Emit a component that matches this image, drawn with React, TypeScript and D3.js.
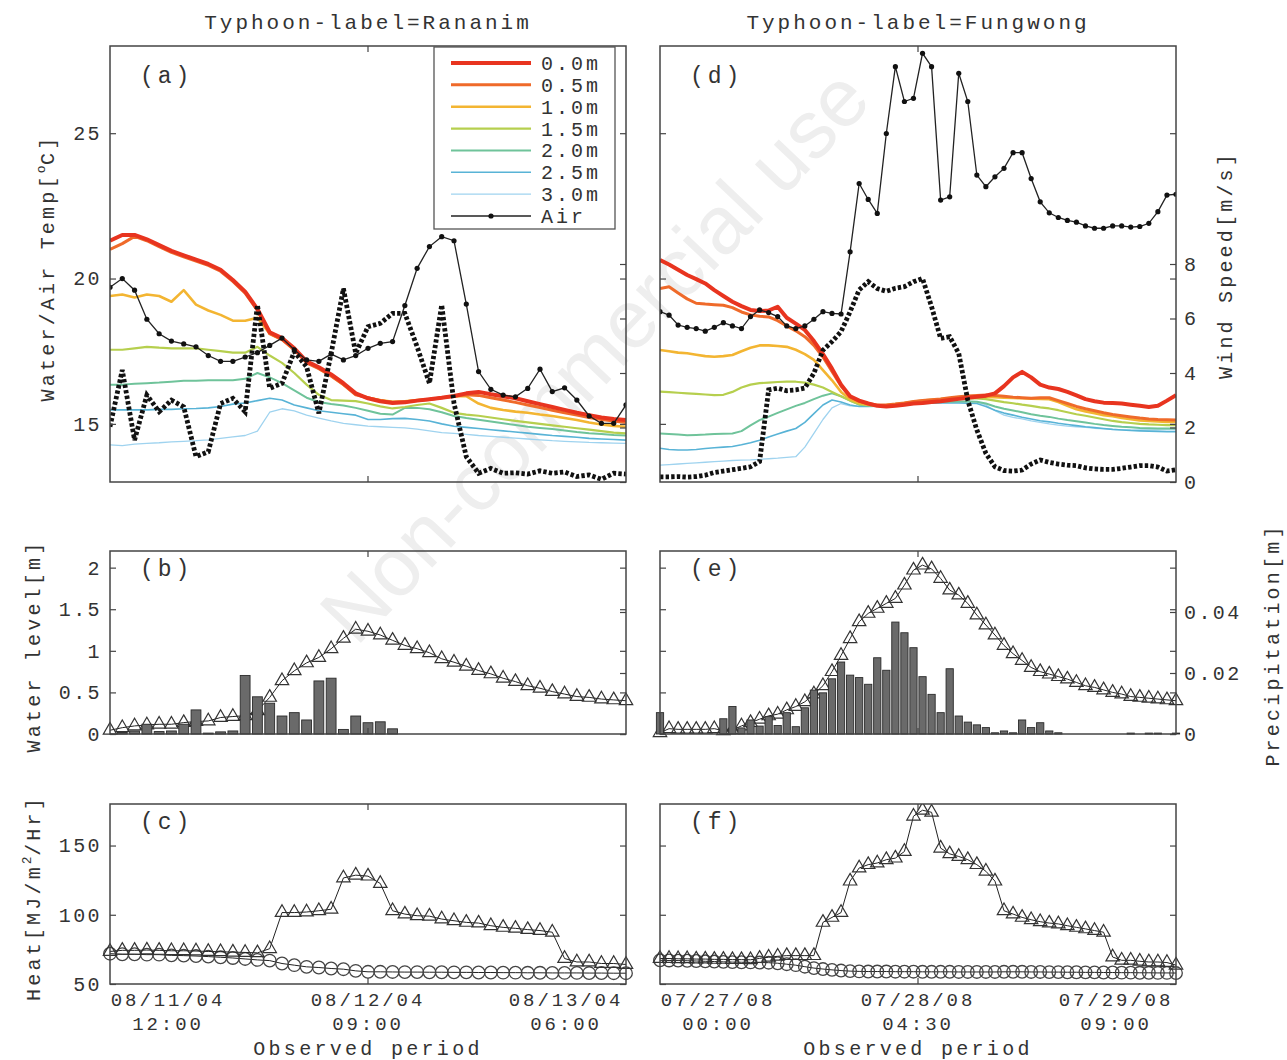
import React, { useRef, useEffect } from 'react'
import * as d3 from 'd3'

// ---- Rananim, hourly from 08/11/04 12:00 (43 values) ----
const airRananim = [19.7, 20.0, 19.6, 18.6, 18.1, 17.85, 17.75, 17.65, 17.35, 17.15, 17.15, 17.3, 17.45, 17.7, 17.95, 17.55, 17.2, 17.15, 17.4, 17.2, 17.35, 17.6, 17.77, 17.83, 19.07, 20.35, 21.1, 21.44, 21.3, 19.12, 16.8, 16.19, 15.99, 15.93, 16.22, 16.88, 16.11, 16.24, 15.82, 15.27, 15.02, 15.02, 15.65]
const windRananim = [2.03, 4.11, 1.54, 3.19, 2.58, 3.0, 2.76, 0.93, 1.11, 2.88, 3.07, 2.58, 6.5, 3.44, 3.62, 4.78, 4.23, 2.52, 4.72, 7.1, 4.72, 5.7, 5.82, 6.19, 6.19, 4.96, 3.62, 6.5, 2.89, 0.93, 0.32, 0.5, 0.32, 0.34, 0.29, 0.41, 0.32, 0.37, 0.2, 0.26, 0.1, 0.32, 0.29]
const water00Rananim = [21.3, 21.5, 21.5, 21.35, 21.15, 20.95, 20.8, 20.65, 20.5, 20.3, 19.95, 19.55, 18.95, 18.15, 17.95, 17.6, 17.15, 16.95, 16.7, 16.4, 16.05, 15.88, 15.78, 15.72, 15.74, 15.8, 15.85, 15.9, 15.96, 16.05, 16.1, 16.02, 15.95, 15.88, 15.78, 15.68, 15.58, 15.48, 15.38, 15.3, 15.22, 15.17, 15.13]
const water05Rananim = [21.0, 21.2, 21.45, 21.3, 21.1, 20.9, 20.75, 20.6, 20.45, 20.25, 19.9, 19.5, 18.9, 18.1, 17.9, 17.55, 17.1, 16.9, 16.65, 16.35, 16.0, 15.9, 15.8, 15.74, 15.76, 15.8, 15.84, 15.9, 15.95, 16.0, 15.98, 15.9, 15.82, 15.74, 15.65, 15.56, 15.47, 15.38, 15.3, 15.22, 15.15, 15.1, 15.05]
const water10Rananim = [19.4, 19.45, 19.35, 19.45, 19.4, 19.2, 19.6, 19.1, 18.9, 18.75, 18.55, 18.55, 18.65, 18.1, 17.9, 17.55, 17.15, 16.9, 16.65, 16.35, 16.02, 15.9, 15.82, 15.76, 15.78, 15.82, 15.85, 15.9, 15.96, 15.95, 15.7, 15.55, 15.48, 15.42, 15.38, 15.32, 15.27, 15.2, 15.13, 15.05, 14.98, 14.93, 14.9]
const water15Rananim = [17.55, 17.55, 17.6, 17.65, 17.62, 17.6, 17.6, 17.6, 17.55, 17.5, 17.45, 17.45, 17.65, 17.35, 17.1, 16.75, 16.35, 16.0, 15.82, 15.8, 15.78, 15.7, 15.6, 15.53, 15.58, 15.65, 15.7, 15.55, 15.38, 15.32, 15.28, 15.22, 15.16, 15.1, 15.05, 15.0, 14.95, 14.9, 14.85, 14.8, 14.75, 14.7, 14.67]
const water20Rananim = [16.35, 16.35, 16.38, 16.4, 16.42, 16.45, 16.48, 16.48, 16.5, 16.5, 16.5, 16.55, 16.75, 16.6, 16.4, 16.15, 15.9, 15.75, 15.68, 15.63, 15.55, 15.45, 15.35, 15.32, 15.55, 15.55, 15.5, 15.4, 15.27, 15.2, 15.14, 15.08, 15.02, 14.96, 14.9, 14.86, 14.82, 14.77, 14.72, 14.68, 14.65, 14.62, 14.6]
const water25Rananim = [15.48, 15.48, 15.48, 15.48, 15.5, 15.5, 15.52, 15.53, 15.55, 15.6, 15.68, 15.72, 15.8, 15.88, 15.82, 15.65, 15.55, 15.45, 15.4, 15.35, 15.3, 15.15, 15.15, 15.18, 15.19, 15.15, 15.1, 15.0, 14.92, 14.88, 14.84, 14.8, 14.76, 14.72, 14.68, 14.64, 14.6, 14.57, 14.54, 14.5, 14.48, 14.46, 14.44]
const water30Rananim = [14.28, 14.25, 14.3, 14.33, 14.35, 14.38, 14.4, 14.42, 14.45, 14.5, 14.55, 14.6, 14.75, 15.4, 15.52, 15.45, 15.3, 15.2, 15.1, 15.02, 14.97, 14.92, 14.9, 14.88, 14.86, 14.82, 14.76, 14.7, 14.67, 14.64, 14.6, 14.57, 14.54, 14.51, 14.48, 14.45, 14.42, 14.4, 14.38, 14.36, 14.35, 14.34, 14.33]
const levelRananim = [0.045, 0.076, 0.097, 0.109, 0.117, 0.117, 0.137, 0.15, 0.157, 0.198, 0.21, 0.22, 0.28, 0.44, 0.64, 0.76, 0.855, 0.92, 1.025, 1.15, 1.26, 1.235, 1.19, 1.126, 1.065, 1.025, 0.977, 0.904, 0.863, 0.815, 0.763, 0.723, 0.67, 0.63, 0.58, 0.55, 0.51, 0.48, 0.45, 0.44, 0.42, 0.41, 0.40]
const rainRananim = [0, 0.0005, 0.001, 0.0032, 0.0008, 0.001, 0.0032, 0.0079, 0.0003, 0.0007, 0.001, 0.0192, 0.0122, 0.0101, 0.0059, 0.007, 0.0046, 0.0174, 0.0183, 0.0015, 0.0059, 0.0037, 0.004, 0.0017, 0, 0, 0, 0, 0, 0, 0, 0, 0, 0, 0, 0, 0, 0, 0, 0, 0, 0, 0]
const heatInRananim = [73.5, 74.3, 74.3, 74.5, 74.3, 74.0, 74.0, 73.8, 73.5, 73.3, 73.0, 72.8, 72.5, 75.5, 101.6, 101.6, 102.0, 102.9, 104.0, 126.6, 128.6, 127.9, 122.6, 102.9, 100.5, 99.3, 99.0, 96.9, 95.7, 94.5, 94.0, 92.1, 90.9, 90.2, 89.3, 88.6, 87.4, 68.4, 65.9, 65.9, 64.8, 64.8, 64.1]
const heatOutRananim = [71.9, 71.5, 71.5, 71.2, 71.2, 70.7, 70.5, 70.2, 69.8, 69.3, 68.8, 68.1, 67.4, 66.9, 64.8, 63.6, 62.4, 61.9, 61.2, 60.7, 59.5, 58.8, 58.8, 58.7, 58.6, 58.6, 58.5, 58.5, 58.4, 58.4, 58.3, 58.3, 58.2, 58.2, 58.1, 58.1, 58.0, 58.0, 58.0, 57.9, 57.9, 57.8, 57.8]

// ---- Fungwong, hourly from 07/27/08 00:00 (58 values) ----
const airFungwong = [18.86, 18.74, 18.4, 18.32, 18.28, 18.19, 18.32, 18.48, 18.37, 18.28, 18.69, 18.92, 18.83, 18.69, 18.37, 18.28, 18.37, 18.6, 18.86, 18.8, 18.78, 20.92, 23.27, 22.72, 22.24, 24.99, 27.29, 26.09, 26.2, 27.75, 27.29, 22.7, 22.81, 27.06, 26.09, 23.56, 23.16, 23.5, 23.79, 24.33, 24.33, 23.44, 22.64, 22.26, 22.1, 22.0, 21.94, 21.81, 21.73, 21.73, 21.81, 21.81, 21.77, 21.79, 21.9, 22.3, 22.87, 22.9]
const windFungwong = [0.19, 0.19, 0.2, 0.18, 0.2, 0.25, 0.35, 0.4, 0.45, 0.5, 0.56, 0.75, 3.38, 3.44, 3.35, 3.38, 3.45, 3.99, 4.84, 5.15, 5.52, 6.25, 7.05, 7.35, 7.1, 7.0, 7.11, 7.17, 7.35, 7.47, 6.43, 5.27, 5.33, 4.72, 3.0, 1.91, 1.05, 0.56, 0.42, 0.4, 0.44, 0.66, 0.81, 0.72, 0.66, 0.62, 0.6, 0.52, 0.48, 0.46, 0.46, 0.5, 0.55, 0.6, 0.6, 0.55, 0.4, 0.45]
const water00Fungwong = [20.64, 20.48, 20.3, 20.12, 19.98, 19.83, 19.6, 19.4, 19.2, 19.05, 18.92, 18.88, 18.9, 19.03, 18.65, 18.45, 18.23, 17.85, 17.4, 16.9, 16.35, 15.95, 15.8, 15.7, 15.62, 15.6, 15.62, 15.66, 15.7, 15.72, 15.75, 15.78, 15.82, 15.86, 15.9, 15.93, 15.97, 16.05, 16.3, 16.6, 16.79, 16.6, 16.35, 16.25, 16.2, 16.1, 15.98, 15.85, 15.78, 15.73, 15.72, 15.7, 15.66, 15.62, 15.58, 15.62, 15.8, 15.99]
const water05Fungwong = [19.66, 19.72, 19.5, 19.3, 19.15, 19.12, 19.1, 19.08, 19.0, 18.85, 18.75, 18.7, 18.68, 18.55, 18.37, 18.2, 18.0, 17.7, 17.3, 16.8, 16.3, 15.93, 15.78, 15.7, 15.65, 15.65, 15.68, 15.72, 15.77, 15.8, 15.83, 15.86, 15.9, 15.93, 15.96, 15.98, 15.99, 15.98, 15.95, 15.92, 15.9, 15.88, 15.9, 15.9, 15.8, 15.7, 15.6, 15.52, 15.45, 15.38, 15.32, 15.28, 15.24, 15.2, 15.17, 15.15, 15.14, 15.13]
const water10Fungwong = [17.54, 17.5, 17.45, 17.43, 17.38, 17.33, 17.31, 17.33, 17.37, 17.5, 17.62, 17.7, 17.7, 17.68, 17.65, 17.55, 17.4, 17.2, 16.85, 16.5, 16.1, 15.85, 15.72, 15.66, 15.64, 15.65, 15.68, 15.72, 15.76, 15.8, 15.83, 15.85, 15.88, 15.9, 15.92, 15.93, 15.93, 15.92, 15.9, 15.89, 15.88, 15.87, 15.86, 15.85, 15.75, 15.62, 15.5, 15.43, 15.37, 15.3, 15.26, 15.2, 15.16, 15.12, 15.1, 15.08, 15.07, 15.07]
const water15Fungwong = [16.11, 16.09, 16.07, 16.05, 16.03, 16.01, 15.99, 16.0, 16.1, 16.25, 16.35, 16.4, 16.42, 16.44, 16.45, 16.45, 16.42, 16.35, 16.25, 16.1, 15.95, 15.8, 15.68, 15.64, 15.63, 15.64, 15.66, 15.7, 15.74, 15.77, 15.8, 15.83, 15.85, 15.87, 15.88, 15.88, 15.85, 15.8, 15.75, 15.71, 15.66, 15.62, 15.57, 15.53, 15.47, 15.4, 15.33, 15.28, 15.22, 15.16, 15.1, 15.06, 15.03, 15.0, 14.98, 14.97, 14.96, 14.96]
const water20Fungwong = [14.67, 14.65, 14.63, 14.61, 14.62, 14.63, 14.65, 14.66, 14.67, 14.75, 14.95, 15.13, 15.25, 15.38, 15.5, 15.62, 15.72, 15.85, 15.97, 16.05, 15.95, 15.8, 15.66, 15.62, 15.62, 15.63, 15.65, 15.68, 15.71, 15.73, 15.74, 15.75, 15.76, 15.77, 15.77, 15.76, 15.7, 15.6, 15.52, 15.46, 15.4, 15.33, 15.28, 15.24, 15.18, 15.13, 15.09, 15.05, 15.0, 14.96, 14.93, 14.9, 14.88, 14.86, 14.85, 14.84, 14.84, 14.84]
const water25Fungwong = [14.16, 14.12, 14.1, 14.1, 14.12, 14.15, 14.18, 14.2, 14.22, 14.28, 14.35, 14.44, 14.55, 14.65, 14.75, 14.84, 15.05, 15.35, 15.65, 15.82, 15.75, 15.65, 15.6, 15.6, 15.61, 15.62, 15.64, 15.66, 15.68, 15.7, 15.71, 15.72, 15.72, 15.72, 15.71, 15.7, 15.6, 15.47, 15.37, 15.3, 15.23, 15.17, 15.11, 15.07, 15.02, 14.98, 14.94, 14.9, 14.87, 14.84, 14.81, 14.79, 14.77, 14.76, 14.75, 14.74, 14.73, 14.73]
const water30Fungwong = [13.58, 13.6, 13.62, 13.64, 13.66, 13.68, 13.7, 13.72, 13.74, 13.75, 13.76, 13.78, 13.8, 13.82, 13.85, 13.87, 14.2, 14.67, 15.15, 15.55, 15.7, 15.62, 15.6, 15.6, 15.61, 15.62, 15.64, 15.66, 15.68, 15.7, 15.72, 15.73, 15.74, 15.75, 15.76, 15.76, 15.65, 15.45, 15.3, 15.22, 15.17, 15.1, 15.05, 15.0, 14.96, 14.92, 14.9, 14.88, 14.85, 14.83, 14.81, 14.8, 14.79, 14.79, 14.79, 14.79, 14.79, 14.79]
const levelFungwong = [0.016, 0.064, 0.056, 0.056, 0.056, 0.056, 0.064, 0.04, 0.05, 0.097, 0.137, 0.178, 0.218, 0.238, 0.29, 0.33, 0.387, 0.48, 0.58, 0.75, 0.944, 1.146, 1.35, 1.45, 1.51, 1.57, 1.63, 1.79, 1.97, 2.03, 1.985, 1.87, 1.73, 1.67, 1.57, 1.43, 1.31, 1.19, 1.065, 0.965, 0.884, 0.8, 0.75, 0.72, 0.69, 0.66, 0.62, 0.58, 0.56, 0.53, 0.5, 0.48, 0.45, 0.44, 0.43, 0.42, 0.41, 0.40]
const rainFungwong = [0.007, 0, 0, 0, 0, 0, 0, 0.005, 0.009, 0.002, 0.0046, 0.0026, 0.0057, 0.0028, 0.007, 0.0024, 0.0086, 0.0144, 0.0135, 0.0181, 0.0236, 0.0193, 0.0185, 0.0163, 0.025, 0.0209, 0.0367, 0.0332, 0.0283, 0.0188, 0.013, 0.007, 0.0214, 0.0059, 0.0039, 0.003, 0.0021, 0.0004, 0.001, 0.0004, 0.0046, 0.0021, 0.0037, 0.001, 0.0004, 0, 0, 0, 0, 0, 0, 0, 0.0003, 0, 0.0003, 0.0003, 0, 0.0003]
const heatInFungwong = [68.4, 68.4, 68.2, 68.2, 68.0, 68.0, 67.8, 67.8, 67.6, 67.6, 67.5, 68.5, 69.3, 70.0, 70.5, 70.5, 70.5, 70.5, 94.5, 98.1, 101.6, 124.3, 133.8, 136.2, 137.4, 139.8, 140.9, 145.7, 171.2, 175.5, 174.0, 148.1, 144.0, 142.1, 139.8, 136.2, 131.4, 124.3, 102.9, 100.5, 98.1, 96.4, 95.0, 94.0, 93.4, 92.1, 90.9, 89.8, 88.6, 87.4, 69.5, 67.1, 67.1, 66.4, 65.9, 65.9, 65.5, 63.6]
const heatOutFungwong = [67.1, 67.0, 66.9, 66.8, 66.6, 66.4, 66.2, 66.0, 65.8, 65.7, 65.6, 65.5, 65.4, 65.0, 64.3, 63.6, 62.5, 61.5, 60.8, 60.2, 59.7, 59.3, 59.1, 59.0, 59.0, 59.0, 58.9, 58.9, 58.9, 58.8, 58.8, 58.8, 58.8, 58.7, 58.7, 58.7, 58.7, 58.7, 58.8, 58.8, 58.8, 58.7, 58.7, 58.6, 58.6, 58.5, 58.5, 58.4, 58.4, 58.3, 58.3, 58.2, 58.2, 58.1, 58.1, 58.0, 58.0, 57.9]

const depthLabels = ['0.0m', '0.5m', '1.0m', '1.5m', '2.0m', '2.5m', '3.0m']
const depthColors = ['#e8341f', '#ef6a2a', '#f3b532', '#b6cf4e', '#6fc39a', '#58b3d6', '#9fd3ef']
const depthWidths = [4, 3, 2.6, 2.2, 2, 1.6, 1.3]

const tempTicks = [15, 20, 25]
const windTicks = [0, 2, 4, 6, 8]
const levelTicks = [0, 0.5, 1, 1.5, 2]
const rainTicks = [0, 0.02, 0.04]
const heatTicks = [50, 100, 150]

const rananimDates = [['08/11/04', '12:00'], ['08/12/04', '09:00'], ['08/13/04', '06:00']]
const fungwongDates = [['07/27/08', '00:00'], ['07/28/08', '04:30'], ['07/29/08', '09:00']]

const MONO = '"Liberation Mono", "DejaVu Sans Mono", monospace'
const INK = '#333'

export default function App() {
  const svgRef = useRef<SVGSVGElement>(null)

  useEffect(() => {
    const svg = d3.select(svgRef.current)
    svg.selectAll('*').remove()

    // faint watermark in the background
    svg.append('text')
      .attr('transform', 'translate(615,375) rotate(-46.5)')
      .attr('text-anchor', 'middle')
      .attr('font-family', '"Liberation Sans", Arial, sans-serif')
      .attr('font-size', 82)
      .attr('fill', '#eeeeee')
      .text('Non-commercial use')

    const cols = [
      { x0: 110, x1: 626, n: 43, dates: rananimDates, title: 'Typhoon-label=Rananim',
        air: airRananim, wind: windRananim,
        water: [water00Rananim, water05Rananim, water10Rananim, water15Rananim, water20Rananim, water25Rananim, water30Rananim],
        level: levelRananim, rain: rainRananim, heatIn: heatInRananim, heatOut: heatOutRananim, letters: ['(a)', '(b)', '(c)'] },
      { x0: 660, x1: 1176, n: 58, dates: fungwongDates, title: 'Typhoon-label=Fungwong',
        air: airFungwong, wind: windFungwong,
        water: [water00Fungwong, water05Fungwong, water10Fungwong, water15Fungwong, water20Fungwong, water25Fungwong, water30Fungwong],
        level: levelFungwong, rain: rainFungwong, heatIn: heatInFungwong, heatOut: heatOutFungwong, letters: ['(d)', '(e)', '(f)'] },
    ]
    const rows = [{ y0: 46, y1: 482 }, { y0: 551, y1: 734 }, { y0: 804, y1: 984 }]

    const styleText = (sel: any, size: number, spacing: number) =>
      sel.attr('font-family', MONO).attr('font-size', size).attr('fill', INK).attr('letter-spacing', spacing)

    const drawAxis = (g: any, gen: any, tx: number) => {
      const a = g.append('g').attr('transform', `translate(${tx},0)`).call(gen)
      a.select('.domain').remove()
      a.selectAll('line').attr('stroke', '#444').attr('stroke-width', 1.2)
      styleText(a.selectAll('text'), 20, 2.4)
      return a
    }

    const frame = (g: any, x0: number, x1: number, y0: number, y1: number) =>
      g.append('rect').attr('x', x0).attr('y', y0).attr('width', x1 - x0).attr('height', y1 - y0)
        .attr('fill', 'none').attr('stroke', '#444').attr('stroke-width', 1.5)

    const midTicks = (g: any, xm: number, y0: number, y1: number) => {
      g.append('line').attr('x1', xm).attr('x2', xm).attr('y1', y0).attr('y2', y0 + 6).attr('stroke', '#444').attr('stroke-width', 1.2)
      g.append('line').attr('x1', xm).attr('x2', xm).attr('y1', y1).attr('y2', y1 - 6).attr('stroke', '#444').attr('stroke-width', 1.2)
    }

    const triangle = d3.symbol().type(d3.symbolTriangle).size(78)

    cols.forEach((c, ci) => {
      const hours = d3.range(c.n)
      const x = d3.scaleLinear().domain([0, c.n - 1]).range([c.x0, c.x1])
      const xm = (c.x0 + c.x1) / 2
      const g = svg.append('g')

      // title
      styleText(g.append('text'), 21, 3)
        .attr('x', xm).attr('y', 29).attr('text-anchor', 'middle').text(c.title)

      // ---------- top panel: temperatures + wind ----------
      const r0 = rows[0]
      const yT = d3.scaleLinear().domain([13, 28]).range([r0.y1, r0.y0])
      const yW = d3.scaleLinear().domain([0, 16]).range([r0.y1, r0.y0])

      const pTop = g.append('g')
      const clip = `clip-top-${ci}`
      pTop.append('clipPath').attr('id', clip).append('rect')
        .attr('x', c.x0).attr('y', r0.y0).attr('width', c.x1 - c.x0).attr('height', r0.y1 - r0.y0)
      const plot = pTop.append('g').attr('clip-path', `url(#${clip})`)

      const lineT = (vals: number[]) => d3.line<number>().x((_, i) => x(i)).y(v => yT(v))(vals)
      for (let k = c.water.length - 1; k >= 0; k--) {
        plot.append('path').attr('d', lineT(c.water[k]))
          .attr('fill', 'none').attr('stroke', depthColors[k]).attr('stroke-width', depthWidths[k])
          .attr('stroke-linejoin', 'round')
      }
      plot.append('path')
        .attr('d', d3.line<number>().x((_, i) => x(i)).y(v => yW(v))(c.wind))
        .attr('fill', 'none').attr('stroke', '#111').attr('stroke-width', 4.8)
        .attr('stroke-dasharray', '3.4 2.2')
      plot.append('path').attr('d', lineT(c.air))
        .attr('fill', 'none').attr('stroke', '#222').attr('stroke-width', 1.3)
      plot.selectAll('.airdot').data(c.air).enter().append('circle')
        .attr('cx', (_, i) => x(i)).attr('cy', d => yT(d)).attr('r', 2.6).attr('fill', '#111')

      frame(pTop, c.x0, c.x1, r0.y0, r0.y1)
      midTicks(pTop, xm, r0.y0, r0.y1)
      drawAxis(pTop, d3.axisLeft(yT).tickValues(tempTicks).tickSize(-6).tickPadding(8)
        .tickFormat(ci === 0 ? (d: any) => String(d) : () => ''), c.x0)
      drawAxis(pTop, d3.axisRight(yT).tickValues(tempTicks).tickSize(-6).tickFormat(() => ''), c.x1)
      drawAxis(pTop, d3.axisRight(yW).tickValues(windTicks).tickSize(-6).tickPadding(8)
        .tickFormat(ci === 1 ? (d: any) => String(d) : () => ''), c.x1)
      styleText(pTop.append('text'), 23, 4).attr('x', c.x0 + 30).attr('y', 83).text(c.letters[0])

      // legend (left column only)
      if (ci === 0) {
        const lg = pTop.append('g')
        lg.append('rect').attr('x', 434).attr('y', 47).attr('width', 181).attr('height', 182)
          .attr('fill', '#fff').attr('stroke', '#555').attr('stroke-width', 1.3)
        const ly = d3.scalePoint<number>().domain(d3.range(8)).range([63, 216])
        depthLabels.forEach((lab, k) => {
          lg.append('line').attr('x1', 451).attr('x2', 531).attr('y1', ly(k)!).attr('y2', ly(k)!)
            .attr('stroke', depthColors[k]).attr('stroke-width', depthWidths[k])
          styleText(lg.append('text'), 20, 3).attr('x', 541).attr('y', ly(k)! + 7).text(lab)
        })
        lg.append('line').attr('x1', 451).attr('x2', 531).attr('y1', ly(7)!).attr('y2', ly(7)!)
          .attr('stroke', '#222').attr('stroke-width', 1.3)
        lg.append('circle').attr('cx', 491).attr('cy', ly(7)!).attr('r', 2.6).attr('fill', '#111')
        styleText(lg.append('text'), 20, 3).attr('x', 541).attr('y', ly(7)! + 7).text('Air')
      }

      // ---------- middle panel: water level + precipitation ----------
      const r1 = rows[1]
      const yL = d3.scaleLinear().domain([0, 2.2]).range([r1.y1, r1.y0])
      const yP = d3.scaleLinear().domain([0, 0.06]).range([r1.y1, r1.y0])
      const pMid = g.append('g')
      pMid.append('path')
        .attr('d', d3.line<number>().x((_, i) => x(i)).y(v => yL(v))(c.level))
        .attr('fill', 'none').attr('stroke', '#222').attr('stroke-width', 1)
      pMid.selectAll('.tri').data(c.level).enter().append('path')
        .attr('d', triangle)
        .attr('transform', (d, i) => `translate(${x(i)},${yL(d)})`)
        .attr('fill', 'none').attr('stroke', '#333').attr('stroke-width', 1.2)
      const bw = (x(1) - x(0)) * 0.8
      pMid.selectAll('.bar').data(hours.filter(h => c.rain[h] > 0)).enter().append('rect')
        .attr('x', h => x(h) - bw / 2).attr('width', bw)
        .attr('y', h => yP(c.rain[h])).attr('height', h => yP(0) - yP(c.rain[h]))
        .attr('fill', '#6a6a6a').attr('stroke', '#2b2b2b').attr('stroke-width', 0.9)
      frame(pMid, c.x0, c.x1, r1.y0, r1.y1)
      midTicks(pMid, xm, r1.y0, r1.y1)
      drawAxis(pMid, d3.axisLeft(yL).tickValues(levelTicks).tickSize(-6).tickPadding(8)
        .tickFormat(ci === 0 ? (d: any) => String(d) : () => ''), c.x0)
      drawAxis(pMid, d3.axisRight(yL).tickValues(levelTicks).tickSize(-6).tickFormat(() => ''), c.x1)
      drawAxis(pMid, d3.axisRight(yP).tickValues(rainTicks).tickSize(-6).tickPadding(8)
        .tickFormat(ci === 1 ? (d: any) => String(d) : () => ''), c.x1)
      styleText(pMid.append('text'), 23, 4).attr('x', c.x0 + 30).attr('y', r1.y0 + 25).text(c.letters[1])

      // ---------- bottom panel: heat ----------
      const r2 = rows[2]
      const yH = d3.scaleLinear().domain([50, 180]).range([r2.y1, r2.y0])
      const pBot = g.append('g')
      const clipB = `clip-bot-${ci}`
      pBot.append('clipPath').attr('id', clipB).append('rect')
        .attr('x', c.x0 - 8).attr('y', r2.y0).attr('width', c.x1 - c.x0 + 16).attr('height', r2.y1 - r2.y0)
      const plotB = pBot.append('g').attr('clip-path', `url(#${clipB})`)
      const lineH = (vals: number[]) => d3.line<number>().x((_, i) => x(i)).y(v => yH(v))(vals)
      plotB.append('path').attr('d', lineH(c.heatOut)).attr('fill', 'none').attr('stroke', '#222').attr('stroke-width', 1)
      plotB.selectAll('.circ').data(c.heatOut).enter().append('circle')
        .attr('cx', (_, i) => x(i)).attr('cy', d => yH(d)).attr('r', 6.3)
        .attr('fill', 'none').attr('stroke', '#444').attr('stroke-width', 1.3)
      plotB.append('path').attr('d', lineH(c.heatIn)).attr('fill', 'none').attr('stroke', '#222').attr('stroke-width', 1)
      plotB.selectAll('.tri').data(c.heatIn).enter().append('path')
        .attr('d', triangle)
        .attr('transform', (d, i) => `translate(${x(i)},${yH(d)})`)
        .attr('fill', 'none').attr('stroke', '#333').attr('stroke-width', 1.2)
      frame(pBot, c.x0, c.x1, r2.y0, r2.y1)
      midTicks(pBot, xm, r2.y0, r2.y1)
      drawAxis(pBot, d3.axisLeft(yH).tickValues(heatTicks).tickSize(-6).tickPadding(8)
        .tickFormat(ci === 0 ? (d: any) => String(d) : () => ''), c.x0)
      drawAxis(pBot, d3.axisRight(yH).tickValues(heatTicks).tickSize(-6).tickFormat(() => ''), c.x1)
      styleText(pBot.append('text'), 23, 4).attr('x', c.x0 + 30).attr('y', r2.y0 + 25).text(c.letters[2])

      // date labels under the bottom panel
      const tickHours = [0, (c.n - 1) / 2, c.n - 1]
      const offs = [58, 0, -60]
      c.dates.forEach((pair, k) => {
        const t = styleText(g.append('text'), 19, 2.9).attr('text-anchor', 'middle')
        t.append('tspan').attr('x', x(tickHours[k]) + offs[k]).attr('y', 1006).text(pair[0])
        t.append('tspan').attr('x', x(tickHours[k]) + offs[k]).attr('y', 1030).text(pair[1])
      })
      styleText(g.append('text'), 20, 3.3).attr('x', xm).attr('y', 1055).attr('text-anchor', 'middle')
        .text('Observed period')
    })

    // axis titles
    const yTitle = (x: number, y: number, parts: [string, boolean][]) => {
      const t = styleText(svg.append('text'), 20, 3.2)
        .attr('transform', `translate(${x},${y}) rotate(-90)`).attr('text-anchor', 'middle')
      parts.forEach(([s, sup]) => {
        const sp = t.append('tspan').text(s)
        if (sup) sp.attr('font-size', 13).attr('baseline-shift', '70%').attr('letter-spacing', 0.5)
      })
    }
    yTitle(54, 268, [['Water/Air Temp[', false], ['o', true], ['C]', false]])
    yTitle(40, 646, [['Water level[m]', false]])
    yTitle(40, 898, [['Heat[MJ/m', false], ['2', true], ['/Hr]', false]])
    yTitle(1232, 265, [['Wind Speed[m/s]', false]])
    yTitle(1279, 645, [['Precipitation[m]', false]])
  }, [])

  return (
    <svg ref={svgRef} width={1287} height={1060}
      style={{ position: 'absolute', left: 0, top: 0, background: '#fff' }} />
  )
}
